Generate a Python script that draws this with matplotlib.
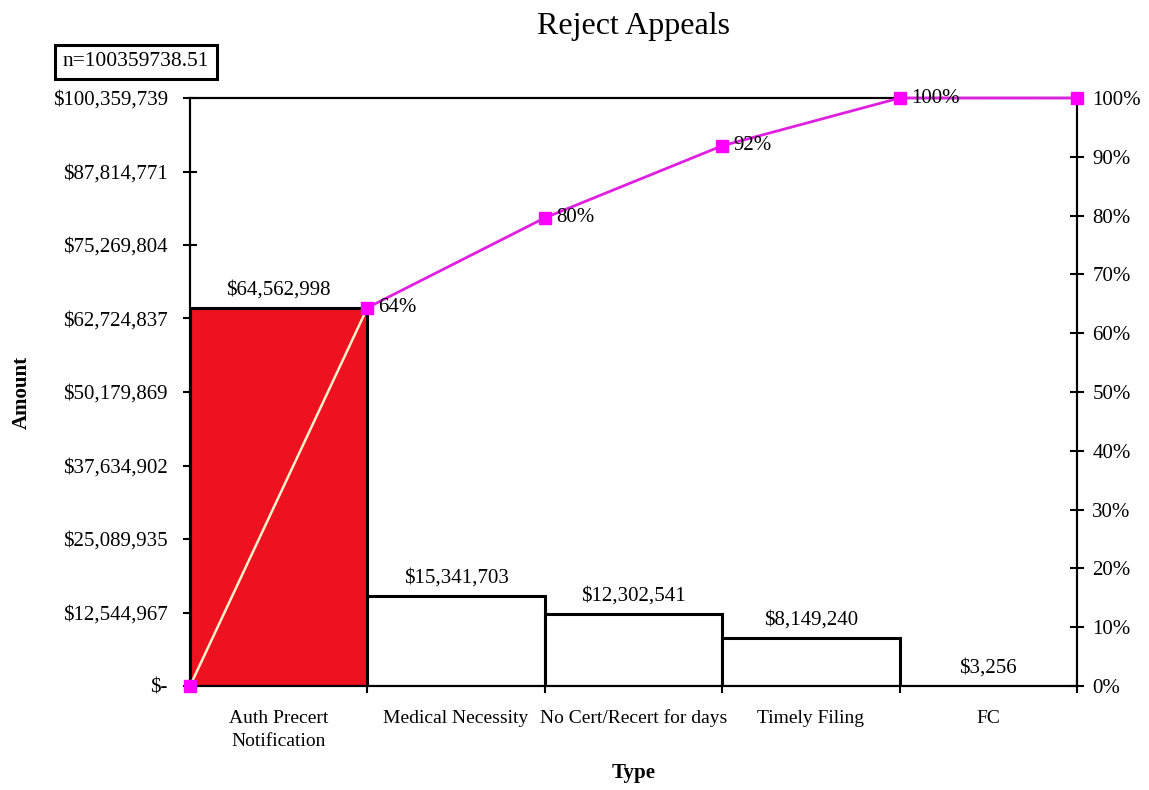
import matplotlib
matplotlib.use("Agg")
import matplotlib.pyplot as plt
import numpy as np

categories = ["Auth Precert\nNotification", "Medical Necessity", "No Cert/Recert for days", "Timely Filing", "FC"]
amounts = [64562998, 15341703, 12302541, 8149240, 3256]
value_labels = ["$64,562,998", "$15,341,703", "$12,302,541", "$8,149,240", "$3,256"]
total = 100359738.51
left_ticks = [0, 12544967, 25089935, 37634902, 50179869, 62724837, 75269804, 87814771, 100359739]
left_tick_labels = ["$-", "$12,544,967", "$25,089,935", "$37,634,902", "$50,179,869",
                    "$62,724,837", "$75,269,804", "$87,814,771", "$100,359,739"]
cum_labels = ["64%", "80%", "92%", "100%"]

plt.rcParams['font.family'] = ['Liberation Serif', 'DejaVu Serif']

fig = plt.figure(figsize=(11.49, 7.90), dpi=100)
ax = fig.add_axes([190/1149, 1-686/790, (1077-190)/1149, (686-98)/790])

n = len(amounts)
x = np.arange(n)
colors = ['#EE111F'] + ['white'] * (n - 1)
ax.bar(x, amounts, width=1.0, color=colors, edgecolor='black', linewidth=2.2, zorder=2)
ax.set_xlim(-0.5, n - 0.5)
ax.set_ylim(0, total)

for xi, v, lab in zip(x, amounts, value_labels):
    ax.annotate(lab, (xi, v), xytext=(0, 6), textcoords='offset points',
                ha='center', va='bottom', fontsize=15)

ax.set_yticks(left_ticks)
ax.set_yticklabels(left_tick_labels, fontsize=15)
ax.tick_params(axis='y', direction='inout', length=10, width=1.5, pad=11)
ax.set_xticks(np.arange(n + 1) - 0.5)
ax.set_xticklabels([])
ax.tick_params(axis='x', which='major', direction='inout', length=10, width=1.5)
ax.set_xticks(x, minor=True)
ax.set_xticklabels(categories, minor=True, fontsize=14, linespacing=1.5)
ax.tick_params(axis='x', which='minor', length=0, pad=17)
for sp in ax.spines.values():
    sp.set_linewidth(1.5)

ax.set_ylabel("Amount", fontsize=15, fontweight='bold', labelpad=15)
ax.set_xlabel("Type", fontsize=15, fontweight='bold', labelpad=9)
ax.set_title("Reject Appeals", fontsize=23, pad=46)

# Pareto line on secondary axis
ax2 = ax.twinx()
ax2.set_ylim(0, 100)
ax2.set_yticks(np.arange(0, 101, 10))
ax2.set_yticklabels([f"{v}%" for v in range(0, 101, 10)], fontsize=15)
ax2.tick_params(axis='y', direction='inout', length=10, width=1.5, pad=6)
for sp in ax2.spines.values():
    sp.set_linewidth(1.5)

cum = np.concatenate([[0], np.cumsum(amounts) / total * 100])
cx = np.arange(n + 1) - 0.5
ax2.plot(cx[:2], cum[:2], color='#FFF2C8', linewidth=1.8, zorder=3, clip_on=False)
ax2.plot(cx[1:], cum[1:], color='#E020E0', linewidth=2, zorder=3, clip_on=False)
ax2.plot(cx, cum, linestyle='none', marker='s', markersize=9, color='#FF00FF',
         zorder=4, clip_on=False)
for xi, yi, lab in zip(cx[1:], cum[1:], cum_labels):
    ax2.annotate(lab, (xi, yi), xytext=(8, 0), textcoords='offset points',
                 ha='left', va='center', fontsize=15, zorder=5)

fig.text(136/1149, 1-62/790, "n=100359738.51", fontsize=15.5, ha='center', va='center',
         bbox=dict(boxstyle='square,pad=0.35', facecolor='white', edgecolor='black', linewidth=2.2))

fig.savefig("out.png", dpi=100)
